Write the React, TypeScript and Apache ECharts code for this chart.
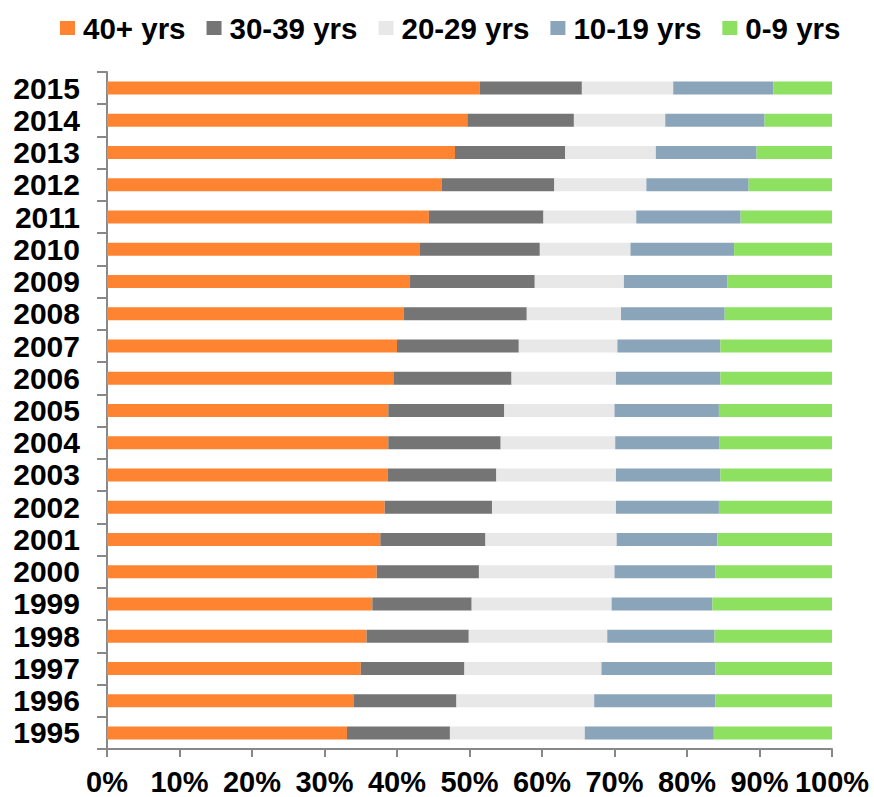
import React, { useEffect, useRef } from "react";
import * as echarts from "echarts";

const years = ["1995","1996","1997","1998","1999","2000","2001","2002","2003","2004","2005","2006","2007","2008","2009","2010","2011","2012","2013","2014","2015"];
const seriesNames = ["40+ yrs", "30-39 yrs", "20-29 yrs", "10-19 yrs", "0-9 yrs"];
const age40plus = [33.1, 34.0, 35.0, 35.8, 36.6, 37.2, 37.7, 38.3, 38.7, 38.8, 38.8, 39.5, 40.0, 40.9, 41.8, 43.1, 44.4, 46.2, 48.0, 49.7, 51.4];
const age30to39 = [14.2, 14.2, 14.3, 14.1, 13.7, 14.1, 14.5, 14.8, 15.0, 15.5, 16.0, 16.3, 16.8, 17.0, 17.2, 16.6, 15.8, 15.5, 15.2, 14.7, 14.1];
const age20to29 = [18.6, 19.0, 18.9, 19.1, 19.3, 18.7, 18.1, 17.1, 16.5, 15.8, 15.2, 14.4, 13.6, 13.0, 12.3, 12.5, 12.8, 12.7, 12.5, 12.6, 12.6];
const age10to19 = [17.8, 16.7, 15.7, 14.8, 13.9, 13.9, 13.9, 14.2, 14.4, 14.4, 14.4, 14.4, 14.2, 14.3, 14.3, 14.3, 14.4, 14.1, 13.9, 13.7, 13.8];
const age0to9 = [16.3, 16.1, 16.1, 16.2, 16.5, 16.1, 15.8, 15.6, 15.4, 15.5, 15.6, 15.4, 15.4, 14.8, 14.4, 13.5, 12.6, 11.5, 10.4, 9.3, 8.1];
const colors = ["#FF8432", "#757575", "#E8E8E8", "#8AA4B9", "#8DE060"];

const FONT = "'Liberation Sans', Arial, sans-serif";

export default function App() {
  const ref = useRef<HTMLDivElement>(null);
  useEffect(() => {
    if (!ref.current) return;
    const chart = echarts.init(ref.current, null, { renderer: "svg" });
    const dataSets = [age40plus, age30to39, age20to29, age10to19, age0to9];
    chart.setOption({
      animation: false,
      legend: {
        top: 8,
        left: 55,
        itemWidth: 15,
        itemHeight: 14,
        itemGap: 21,
        icon: "rect",
        textStyle: {
          fontFamily: FONT,
          fontSize: 29.5,
          fontWeight: "bold",
          color: "#000",
          padding: [0, 0, 0, 3],
        },
        data: seriesNames,
      },
      grid: { left: 107, right: 42, top: 72, bottom: 48, containLabel: false },
      xAxis: {
        type: "value",
        min: 0,
        max: 100,
        interval: 10,
        splitLine: { show: false },
        axisLine: { show: true, lineStyle: { color: "#888888", width: 2 } },
        axisTick: { show: true, length: 8, lineStyle: { color: "#888888", width: 2 } },
        axisLabel: {
          formatter: "{value}%",
          fontFamily: FONT,
          fontSize: 29,
          fontWeight: "bold",
          color: "#000",
          margin: 18,
        },
      },
      yAxis: {
        type: "category",
        data: years,
        axisLine: { show: true, lineStyle: { color: "#888888", width: 2 } },
        axisTick: { show: true, length: 10, lineStyle: { color: "#888888", width: 2 } },
        axisLabel: {
          interval: 0,
          fontFamily: FONT,
          fontSize: 30,
          fontWeight: "bold",
          color: "#000",
          margin: 27,
        },
      },
      series: seriesNames.map((name, i) => ({
        name,
        type: "bar",
        stack: "total",
        barWidth: 13,
        itemStyle: { color: colors[i] },
        data: dataSets[i],
      })),
    });
    return () => chart.dispose();
  }, []);
  return (
    <div
      ref={ref}
      style={{ position: "fixed", left: 0, top: 0, width: 874, height: 797, background: "#fff" }}
    />
  );
}
